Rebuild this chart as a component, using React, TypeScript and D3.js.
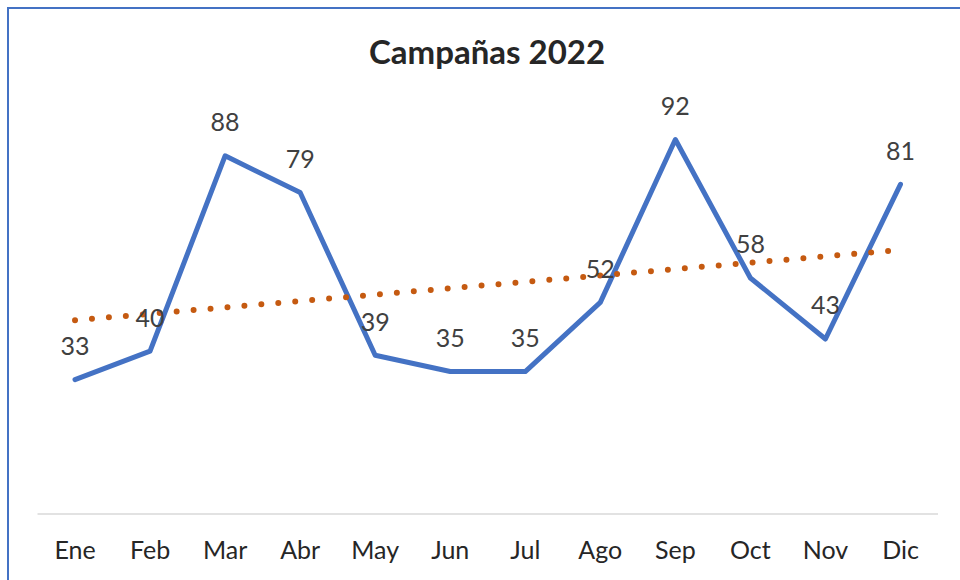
import * as d3 from 'd3'

const months = ['Ene', 'Feb', 'Mar', 'Abr', 'May', 'Jun', 'Jul', 'Ago', 'Sep', 'Oct', 'Nov', 'Dic']
const campaigns = [33, 40, 88, 79, 39, 35, 35, 52, 92, 58, 43, 81]

const width = 960
const height = 580
const margin = { left: 37.5, right: 22, top: 107, bottom: 66 }

/** Excel-style line chart with a linear trendline. */
export default function App() {
  const x = d3
    .scaleBand<string>()
    .domain(months)
    .range([margin.left, width - margin.right])

  const y = d3
    .scaleLinear()
    .domain([0, 100])
    .range([height - margin.bottom, margin.top])

  const cx = (m: string) => (x(m) ?? 0) + x.bandwidth() / 2

  const pts = months.map((m, i) => ({ m, v: campaigns[i] }))

  const line = d3
    .line<{ m: string; v: number }>()
    .x((d) => cx(d.m))
    .y((d) => y(d.v))

  // least-squares trend over 1..12, as Excel draws it
  const idx = months.map((_, i) => i + 1)
  const mx = d3.mean(idx) ?? 0
  const my = d3.mean(campaigns) ?? 0
  const sxy = d3.sum(idx, (t, i) => (t - mx) * (campaigns[i] - my))
  const sxx = d3.sum(idx, (t) => (t - mx) ** 2)
  const slope = sxy / sxx
  const trend = months.map((m, i) => ({ m, v: my + slope * (i + 1 - mx) }))

  const font = 'Lato, "Open Sans", sans-serif'

  return (
    <svg
      width={width}
      height={height}
      viewBox={`0 0 ${width} ${height}`}
      style={{ position: 'absolute', left: 0, top: 0, display: 'block', background: '#fff' }}
    >
      <rect x={8} y={8} width={1000} height={1000} fill="#fff" stroke="#4472C4" strokeWidth={2} />

      <text
        x={487}
        y={56}
        textAnchor="middle"
        dominantBaseline="middle"
        fontFamily={font}
        fontWeight={700}
        fontSize={33}
        fill="#262626"
      >
        Campañas 2022
      </text>

      <line
        x1={margin.left}
        x2={width - margin.right}
        y1={y(0)}
        y2={y(0)}
        stroke="#d9d9d9"
        strokeWidth={1.5}
      />

      {months.map((m) => (
        <text
          key={m}
          x={cx(m)}
          y={553}
          textAnchor="middle"
          dominantBaseline="middle"
          fontFamily={font}
          fontSize={25}
          fill="#262626"
        >
          {m}
        </text>
      ))}

      <path
        d={line(pts) ?? ''}
        fill="none"
        stroke="#4472C4"
        strokeWidth={5}
        strokeLinejoin="round"
        strokeLinecap="round"
      />

      <path
        d={line(trend) ?? ''}
        fill="none"
        stroke="#C55A11"
        strokeWidth={6}
        strokeLinecap="round"
        strokeDasharray="0 17"
      />

      {pts.map((d) => (
        <text
          key={d.m}
          x={cx(d.m)}
          y={y(d.v) - 31}
          textAnchor="middle"
          dominantBaseline="middle"
          fontFamily={font}
          fontSize={25}
          fill="#404040"
        >
          {d.v}
        </text>
      ))}
    </svg>
  )
}
